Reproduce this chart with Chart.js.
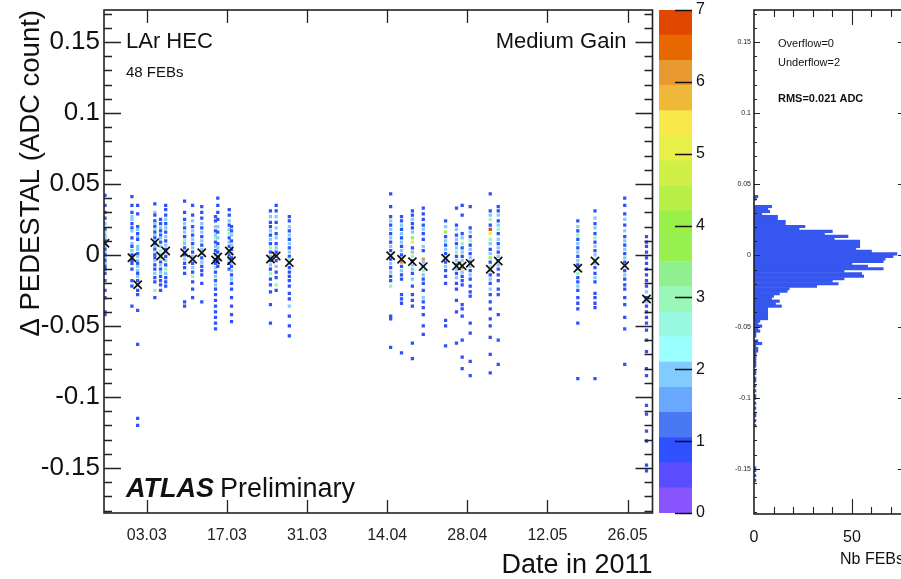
<!DOCTYPE html>
<html><head><meta charset="utf-8">
<script src="https://cdn.jsdelivr.net/npm/chart.js@4/dist/chart.umd.min.js"></script>
<style>
html,body{margin:0;padding:0;background:#fff;overflow:hidden;width:901px;height:579px;}
#wrap{position:relative;width:901px;height:579px;overflow:hidden;background:#fff;}
canvas{position:absolute;top:0;}
</style></head><body><div id="wrap">
<canvas id="main" width="660" height="579" style="left:0"></canvas>
<canvas id="zbar" width="60" height="579" style="left:655px"></canvas>
<canvas id="hist" width="245" height="579" style="left:705px"></canvas>
</div>
<script>
const FONT = "'Liberation Sans', Arial, Helvetica, sans-serif";

// ---- axes / labels ----
const yMin = -0.1817, yMax = 0.1725;
const dayMin = 54.52, dayMax = 150.35;          // day of year 2011
const dateTicks = [62, 76, 90, 104, 118, 132, 146];
const dateLabels = ['03.03', '17.03', '31.03', '14.04', '28.04', '12.05', '26.05'];
const yTicks = [-0.15, -0.1, -0.05, 0, 0.05, 0.1, 0.15];
const yTickLabels = ['-0.15', '-0.1', '-0.05', '0', '0.05', '0.1', '0.15'];

// ---- colour scale (z = number of FEBs per cell), 20 bands from 0 to 7 ----
const zMax = 7;
const zColors = ['#8a55ff','#5a4cff','#2f50ff','#4a78f5','#68a8ff','#80ccff','#99ffff','#99f8e0','#99f8b8','#90f090',
                 '#98f050','#98f048','#b8f048','#d0f048','#e8f048','#f8e848','#f0b838','#e89a30','#e86800','#e04800'];
const zTickValues = [0, 1, 2, 3, 4, 5, 6, 7];

// ---- run columns: day of year, mean (x marker, 1e-3 ADC) ----
const colDay = [54.7, 59.4, 60.4, 63.4, 64.4, 65.3, 68.6, 70.0, 71.6, 74.0, 74.4, 76.4, 76.8, 83.6, 84.6, 86.9,
                104.6, 106.5, 108.4, 110.3, 114.2, 116.1, 117.1, 118.5, 122.0, 123.4, 137.3, 140.3, 145.5, 149.3];
const colMean = [8.2, -2.0, -21.0, 8.7, -0.7, 2.8, 1.6, -3.0, 1.6, -3.5, -1.4, 2.8, -4.0, -2.8, -0.7, -5.4,
                 -0.5, -3.0, -4.7, -8.2, -2.3, -7.7, -7.7, -5.9, -10.1, -4.2, -9.4, -4.2, -7.5, -31.0];
// cells of each column: [delta pedestal (1e-3 ADC), number of FEBs]
const colCells = [
 [[42,1],[35,1],[30,1],[26,1],[22,2],[18,1],[16,3],[14,2],[12,2],[10,1],[8,4],[6,2],[4,1],[2,2],[0,1],[-2,2],[-4,1],[-6,2],[-8,1],[-10,1],[-13,1],[-18,1],[-25,1],[-30,1],[-40,1],[-42,1]],
 [[41,1],[35,1],[30,1],[27,2],[25,2],[22,1],[19,1],[17,2],[12,1],[8,2],[6,1],[3,2],[0,1],[-2,2],[-4,1],[-6,1],[-10,1],[-18,1],[-22,1],[-36,1]],
 [[35,1],[29,1],[20,1],[18,2],[15,1],[13,2],[11,1],[6,2],[4,2],[1,1],[-1,2],[-4,2],[-6,1],[-8,2],[-11,2],[-13,1],[-15,2],[-18,1],[-21,2],[-25,1],[-28,1],[-39,1],[-63,1],[-115,1],[-120,1]],
 [[36,1],[30,2],[28,1],[24,1],[22,2],[20,1],[18,3],[16,1],[14,2],[12,1],[10,2],[8,1],[6,2],[4,1],[2,3],[0,1],[-2,1],[-4,2],[-7,1],[-10,1],[-13,2],[-16,1],[-19,1],[-25,3],[-30,1]],
 [[25,1],[22,1],[19,2],[17,1],[14,1],[12,2],[9,1],[6,2],[3,3],[0,2],[-2,4],[-5,1],[-7,2],[-10,1],[-12,2],[-15,1],[-18,1],[-21,1],[-25,1]],
 [[35,1],[32,1],[28,1],[25,2],[22,1],[19,2],[16,1],[13,2],[10,1],[7,2],[4,1],[2,2],[-1,1],[-4,2],[-7,1],[-10,3],[-13,2],[-16,1],[-19,1],[-22,1]],
 [[38,1],[30,1],[25,1],[22,2],[19,1],[16,2],[13,1],[10,3],[8,2],[5,1],[2,2],[0,1],[-3,2],[-6,1],[-9,1],[-13,1],[-33,1],[-36,1]],
 [[35,1],[28,1],[24,2],[20,1],[17,2],[14,1],[11,2],[8,1],[5,2],[2,1],[-1,2],[-3,2],[-6,1],[-9,2],[-12,1],[-15,3],[-19,1],[-24,1],[-30,1]],
 [[34,1],[30,1],[26,1],[22,2],[19,1],[16,2],[13,1],[10,2],[7,1],[4,2],[1,2],[-2,1],[-5,2],[-8,1],[-11,1],[-14,1],[-20,1],[-33,1]],
 [[27,1],[24,1],[20,2],[17,1],[14,2],[12,3],[9,1],[6,2],[3,1],[0,2],[-3,2],[-6,1],[-9,2],[-12,1],[-15,2],[-18,1],[-21,2],[-24,1],[-28,1],[-32,1],[-36,1],[-40,1],[-44,1],[-48,1],[-52,1]],
 [[40,1],[35,1],[30,1],[25,1],[20,2],[16,1],[12,2],[8,1],[5,2],[2,1],[-1,2],[-4,1],[-8,1]],
 [[32,1],[28,1],[24,2],[21,1],[18,2],[15,3],[12,1],[9,2],[6,1],[3,2],[0,1],[-3,2],[-6,1],[-10,1]],
 [[20,1],[17,1],[14,2],[10,1],[7,2],[4,1],[1,2],[-2,1],[-5,2],[-8,1],[-11,2],[-14,1],[-17,2],[-20,1],[-24,1],[-30,1],[-36,1],[-42,1],[-47,1]],
 [[31,1],[27,2],[23,1],[20,1],[17,2],[14,1],[11,2],[8,1],[5,3],[2,1],[-1,2],[-4,1],[-7,2],[-10,1],[-13,3],[-17,1],[-21,1],[-26,1],[-35,1],[-48,1]],
 [[35,1],[31,1],[27,2],[23,1],[19,2],[15,1],[12,2],[8,1],[5,2],[2,1],[-1,2],[-4,1],[-8,2],[-12,1],[-16,1],[-21,3],[-25,1]],
 [[27,1],[24,1],[20,2],[17,1],[14,2],[11,1],[8,2],[5,1],[2,2],[-1,1],[-3,3],[-6,2],[-9,1],[-12,1],[-15,1],[-18,1],[-22,1],[-27,1],[-31,1],[-36,2],[-43,1],[-50,1],[-57,1]],
 [[43,1],[34,1],[27,1],[24,2],[21,1],[18,2],[15,1],[12,2],[9,1],[6,2],[3,1],[0,3],[-3,1],[-6,2],[-9,1],[-12,2],[-15,1],[-18,1],[-22,3],[-43,1],[-45,1],[-65,1]],
 [[27,1],[24,1],[21,2],[18,1],[15,2],[12,1],[9,2],[6,1],[3,2],[0,1],[-3,2],[-5,6],[-8,1],[-11,2],[-14,1],[-17,1],[-28,1],[-31,1],[-34,1],[-69,1]],
 [[31,1],[28,1],[25,2],[22,1],[19,1],[16,2],[12,4],[9,5],[5,1],[2,2],[-1,3],[-4,1],[-7,2],[-10,2],[-13,1],[-17,2],[-22,1],[-28,1],[-32,1],[-36,1],[-62,1],[-73,1]],
 [[33,1],[29,1],[25,1],[21,1],[18,2],[15,1],[11,1],[6,2],[3,1],[-3,6],[-5,2],[-8,1],[-11,3],[-14,2],[-17,1],[-20,1],[-25,1],[-30,2],[-33,1],[-37,1],[-42,1],[-50,1],[-56,1]],
 [[24,1],[20,2],[16,4],[13,1],[10,2],[7,1],[4,2],[1,1],[-2,2],[-5,1],[-8,2],[-11,1],[-15,1],[-20,1],[-46,1],[-50,1],[-64,1]],
 [[33,1],[21,1],[18,2],[14,1],[11,2],[8,1],[5,2],[2,3],[-1,1],[-4,2],[-7,1],[-10,2],[-13,1],[-16,2],[-20,1],[-24,1],[-32,1],[-40,1],[-62,1]],
 [[35,1],[28,1],[15,1],[12,2],[8,3],[5,1],[2,2],[-1,1],[-4,2],[-7,4],[-9,6],[-12,2],[-15,1],[-18,1],[-21,1],[-35,1],[-38,1],[-43,1],[-60,1],[-72,1],[-80,1]],
 [[34,1],[19,1],[16,2],[13,1],[10,3],[7,1],[4,2],[1,1],[-2,2],[-5,1],[-8,2],[-11,1],[-14,2],[-17,1],[-22,1],[-26,1],[-29,1],[-48,1],[-55,1],[-75,1],[-85,1]],
 [[43,1],[31,1],[28,2],[25,3],[21,1],[18,7],[15,5],[11,3],[8,2],[4,1],[1,2],[-2,4],[-5,1],[-8,3],[-11,2],[-14,1],[-17,2],[-20,1],[-24,2],[-28,1],[-33,1],[-38,1],[-45,1],[-50,1],[-58,1],[-70,1],[-83,1]],
 [[34,1],[31,1],[28,2],[24,1],[21,2],[18,3],[15,1],[11,2],[8,1],[5,2],[2,1],[-1,2],[-4,1],[-7,2],[-10,1],[-14,1],[-18,1],[-24,1],[-28,1],[-42,1],[-60,1],[-77,1]],
 [[24,1],[20,2],[17,1],[14,3],[11,1],[8,2],[5,1],[2,2],[-1,1],[-4,2],[-7,1],[-10,2],[-13,3],[-16,1],[-19,1],[-22,2],[-25,1],[-30,1],[-34,1],[-38,1],[-48,1],[-87,1]],
 [[31,1],[26,2],[22,1],[19,2],[15,1],[12,3],[9,1],[6,2],[3,1],[0,2],[-3,3],[-6,2],[-9,1],[-13,1],[-16,2],[-19,1],[-27,1],[-30,1],[-34,1],[-37,1],[-87,1]],
 [[40,1],[35,1],[29,1],[25,2],[21,1],[17,2],[13,1],[10,2],[7,1],[4,2],[1,1],[-2,2],[-5,1],[-8,3],[-11,1],[-14,2],[-17,1],[-21,1],[-24,1],[-30,1],[-35,1],[-44,1],[-52,1],[-77,1]],
 [[13,1],[9,1],[6,1],[2,1],[-2,1],[-6,1],[-10,1],[-14,1],[-18,1],[-22,1],[-26,2],[-30,1],[-33,2],[-36,1],[-40,1],[-44,1],[-48,1],[-53,1],[-60,1],[-68,1],[-80,1],[-85,1],[-106,1],[-112,1],[-124,1],[-131,1],[-148,1],[-152,1]]
];

// ---- projection histogram (Nb FEBs per bin), bins of 0.00175 from -0.18 ----
const histLo = -0.18, histBin = 0.00175;
const histCounts = [
 0,0,0,0,0,0,0,0,0,0,0,0, 1,0,1,0,1,1,
 0,0,0,0,0,0,0,0,0,0,0,0,0,0,0,0,
 1,0,1,0,1,1,0,1,0,1,0,1,1,0,1,0,1,0,1,1,0,1,1,0,1,1,1,1,1,1,2,2,1,4,2,0,1,1,3,2,4,2,3,
 7,7,7,7,7,14,11,13,9,10,13,17,18,32,43,40,46,56,55,46,66,58,50,66,67,71,73,
 60,52,54,54,54,41,48,36,40,23,26,16,16,12,12,4,8,7,9,0,0,1,2,0];
const histXMax = 76.6;
const histXTicks = [0, 50];

// ================= build chart data =================
function zColor(n) { return zColors[Math.min(zColors.length - 1, Math.floor(n / (zMax / zColors.length)))]; }
const cellPoints = [];
colDay.forEach((d, i) => colCells[i].forEach(c => cellPoints.push({x: d, y: c[0] / 1000, n: c[1]})));
const meanPoints = colDay.map((d, i) => ({x: d, y: colMean[i] / 1000}));
const noPadV = s => { s.paddingTop = 0; s.paddingBottom = 0; };
const noPadH = s => { s.paddingLeft = 0; s.paddingRight = 0; };

const mainDecor = {
  id: 'mainDecor',
  afterDatasetsDraw(chart) {
    const {ctx, chartArea: a, scales: {x, y}} = chart;
    ctx.save();
    ctx.strokeStyle = '#222'; ctx.lineWidth = 1.3;
    ctx.beginPath();
    for (let k = -18; k <= 17; k++) {
      const py = Math.round(y.getPixelForValue(k / 100)) + 0.5;
      const L = (k % 5 === 0) ? 17 : 8;
      ctx.moveTo(a.left, py); ctx.lineTo(a.left + L, py);
      ctx.moveTo(a.right, py); ctx.lineTo(a.right - L, py);
    }
    dateTicks.forEach(v => {
      const px = Math.round(x.getPixelForValue(v)) + 0.5;
      ctx.moveTo(px, a.bottom); ctx.lineTo(px, a.bottom - 13);
      ctx.moveTo(px, a.top); ctx.lineTo(px, a.top + 13);
    });
    ctx.stroke();
    ctx.lineWidth = 1.6;
    ctx.strokeRect(a.left, a.top, a.right - a.left, a.bottom - a.top);
    ctx.fillStyle = '#111';
    ctx.textBaseline = 'alphabetic';
    ctx.font = '22px ' + FONT; ctx.textAlign = 'left';
    ctx.fillText('LAr HEC', a.left + 22, a.top + 38);
    ctx.font = '15px ' + FONT;
    ctx.fillText('48 FEBs', a.left + 22, a.top + 67);
    ctx.font = '22px ' + FONT; ctx.textAlign = 'right';
    ctx.fillText('Medium Gain', a.right - 26, a.top + 38);
    ctx.textAlign = 'left';
    ctx.font = 'italic bold 27px ' + FONT;
    ctx.fillText('ATLAS', a.left + 22, a.bottom - 16);
    const w = ctx.measureText('ATLAS').width;
    ctx.font = '27px ' + FONT;
    ctx.fillText('Preliminary', a.left + 22 + w + 6, a.bottom - 16);
    ctx.restore();
  }
};

new Chart(document.getElementById('main'), {
  type: 'scatter',
  data: {datasets: [
    {data: meanPoints, pointStyle: 'crossRot', pointRadius: 5.8, borderColor: '#111', borderWidth: 1.7, backgroundColor: '#111', order: 0},
    {data: cellPoints, pointStyle: 'rect', pointRadius: 2.3, borderWidth: 0, backgroundColor: c => zColor(c.raw ? c.raw.n : 1), order: 1}
  ]},
  options: {
    responsive: false, animation: false, devicePixelRatio: 1,
    layout: {padding: {top: 10, right: 5, left: 0, bottom: 0}},
    plugins: {legend: {display: false}, tooltip: {enabled: false}},
    scales: {
      x: {type: 'linear', min: dayMin, max: dayMax, position: 'bottom',
        afterBuildTicks: s => { s.ticks = dateTicks.map(v => ({value: v})); },
        ticks: {callback: (v, i) => dateLabels[i], font: {family: FONT, size: 16}, color: '#222', padding: 13, maxRotation: 0, autoSkip: false},
        grid: {display: false, drawTicks: false}, border: {display: false},
        title: {display: true, text: 'Date in 2011', align: 'end', font: {family: FONT, size: 27, lineHeight: 1}, color: '#111', padding: 0},
        afterFit: s => { s.height = 66; noPadH(s); }},
      y: {type: 'linear', min: yMin, max: yMax,
        afterBuildTicks: s => { s.ticks = yTicks.map(v => ({value: v})); },
        ticks: {callback: (v, i) => yTickLabels[i], font: {family: FONT, size: 26}, color: '#111', padding: 4, autoSkip: false},
        grid: {display: false, drawTicks: false}, border: {display: false},
        title: {display: true, text: 'Δ PEDESTAL (ADC count)', align: 'end', font: {family: FONT, size: 27.5, lineHeight: 1}, color: '#111', padding: {top: 18, bottom: 0}},
        afterFit: s => { s.width = 104; noPadV(s); }}
    }
  },
  plugins: [mainDecor]
});

// ================= colour bar =================
const zBandSize = zMax / zColors.length;
const zbarTicks = {
  id: 'zbarTicks',
  afterDatasetsDraw(chart) {
    const {ctx, chartArea: a, scales: {y}} = chart;
    ctx.save(); ctx.strokeStyle = '#111'; ctx.lineWidth = 1.3; ctx.beginPath();
    zTickValues.forEach(v => { const py = Math.round(y.getPixelForValue(v)) + 0.5; ctx.moveTo(a.right, py); ctx.lineTo(a.right - 17, py); });
    ctx.stroke(); ctx.restore();
  }
};
new Chart(document.getElementById('zbar'), {
  type: 'bar',
  data: {labels: ['z'], datasets: zColors.map((c, k) => ({data: [[k * zBandSize, (k + 1) * zBandSize]], backgroundColor: c, borderWidth: 0, barPercentage: 1, categoryPercentage: 1, grouped: false}))},
  options: {
    responsive: false, animation: false, devicePixelRatio: 1,
    layout: {padding: {top: 10, left: 4, right: 0, bottom: 66}},
    plugins: {legend: {display: false}, tooltip: {enabled: false}},
    scales: {
      x: {display: false},
      y: {position: 'right', min: 0, max: zMax,
        afterBuildTicks: s => { s.ticks = zTickValues.map(v => ({value: v})); },
        ticks: {font: {family: FONT, size: 16}, color: '#111', padding: 4},
        grid: {display: false, drawTicks: false}, border: {display: false},
        afterFit: s => { s.width = 23; noPadV(s); }}
    }
  },
  plugins: [zbarTicks]
});

// ================= projection histogram =================
const histData = [];
histCounts.forEach((n, k) => { if (n > 0) histData.push({x: n, y: histLo + (k + 0.5) * histBin}); });
const histDecor = {
  id: 'histDecor',
  afterDatasetsDraw(chart) {
    const {ctx, chartArea: a, scales: {x, y}} = chart;
    ctx.save(); ctx.strokeStyle = '#222'; ctx.lineWidth = 1.1; ctx.beginPath();
    for (let k = -18; k <= 17; k++) {
      const py = Math.round(y.getPixelForValue(k / 100)) + 0.5;
      const L = (k % 5 === 0) ? 6 : 3;
      ctx.moveTo(a.left, py); ctx.lineTo(a.left + L, py);
      ctx.moveTo(a.right, py); ctx.lineTo(a.right - L, py);
    }
    for (let v = 10; v <= 70; v += 10) {
      const px = Math.round(x.getPixelForValue(v)) + 0.5;
      const L = (v === 50) ? 15 : 7;
      ctx.moveTo(px, a.bottom); ctx.lineTo(px, a.bottom - L);
      ctx.moveTo(px, a.top); ctx.lineTo(px, a.top + L);
    }
    ctx.stroke();
    ctx.lineWidth = 1.6;
    ctx.strokeRect(a.left, a.top, a.right - a.left, a.bottom - a.top);
    ctx.fillStyle = '#111'; ctx.textAlign = 'left'; ctx.textBaseline = 'alphabetic';
    ctx.font = '11px ' + FONT;
    ctx.fillText('Overflow=0', a.left + 24, a.top + 37);
    ctx.fillText('Underflow=2', a.left + 24, a.top + 56);
    ctx.font = 'bold 11px ' + FONT;
    ctx.fillText('RMS=0.021 ADC', a.left + 24, a.top + 92);
    ctx.restore();
  }
};
new Chart(document.getElementById('hist'), {
  type: 'bar',
  data: {datasets: [{data: histData, backgroundColor: '#3656f0', borderWidth: 0, barPercentage: 1, categoryPercentage: 1}]},
  options: {
    indexAxis: 'y', responsive: false, animation: false, devicePixelRatio: 1,
    layout: {padding: {top: 10, left: 0, right: 46, bottom: 0}},
    plugins: {legend: {display: false}, tooltip: {enabled: false}},
    scales: {
      y: {type: 'linear', min: yMin, max: yMax, offset: false,
        afterBuildTicks: s => { s.ticks = yTicks.map(v => ({value: v})); },
        ticks: {callback: (v, i) => yTickLabels[i], font: {family: FONT, size: 7}, color: '#222', padding: 3, autoSkip: false},
        grid: {display: false, drawTicks: false, offset: false}, border: {display: false},
        afterFit: s => { s.width = 49; noPadV(s); }},
      x: {type: 'linear', min: 0, max: histXMax,
        afterBuildTicks: s => { s.ticks = histXTicks.map(v => ({value: v})); },
        ticks: {font: {family: FONT, size: 16}, color: '#111', padding: 14, maxRotation: 0, autoSkip: false},
        grid: {display: false, drawTicks: false}, border: {display: false},
        title: {display: true, text: 'Nb FEBs', align: 'end', font: {family: FONT, size: 16, lineHeight: 1}, color: '#111', padding: {top: 0, bottom: 11}},
        afterFit: s => { s.height = 65; noPadH(s); }}
    }
  },
  plugins: [histDecor]
});
</script>
</body></html>
